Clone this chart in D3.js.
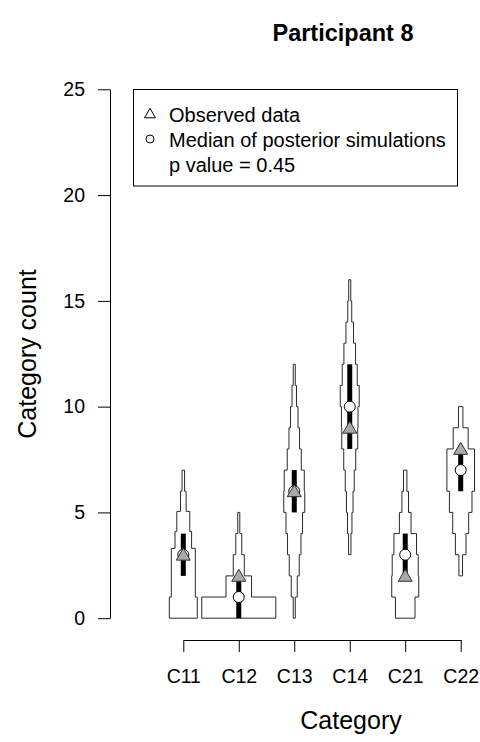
<!DOCTYPE html>
<html>
<head>
<meta charset="utf-8">
<script src="https://cdn.jsdelivr.net/npm/d3@7"></script>
<style>
  html, body { margin: 0; padding: 0; background: #fff; }
  svg { display: block; font-family: "Liberation Sans", Arial, Helvetica, sans-serif; }
</style>
</head>
<body>
<svg id="chart" width="480" height="742"></svg>
<script>
// Categories on the x axis
const categories = ["C11", "C12", "C13", "C14", "C21", "C22"];

// Observed category counts and medians of the posterior simulations
const observed = [3, 2, 6, 9, 2, 8];
const medians  = [3, 1, 6, 10, 3, 7];

// Central interval of the simulated counts (thick black bar)
const intervalLow  = [2, 0, 5, 8, 2, 6];
const intervalHigh = [4, 2, 7, 12, 4, 8];

// Histogram of simulated counts per category: bin edges and proportion per bin
const binEdges = [
  [0, 1, 3.3, 4.1, 5.05, 6, 7],
  [0, 1, 2, 3, 4, 5],
  [0, 1, 2, 3, 4, 5, 6, 7, 8, 9, 10, 11, 12],
  [3, 4, 5, 6, 7, 8, 9, 10, 11, 12, 13, 14, 15, 16],
  [0, 1, 2, 3, 4, 5, 6, 7],
  [2, 3, 4, 5, 6, 7, 8, 9, 10]
];
const binFreq = [
  [0.233, 0.200, 0.138, 0.108, 0.047, 0.021],
  [0.617, 0.213, 0.092, 0.050, 0.017],
  [0.017, 0.050, 0.083, 0.112, 0.138, 0.175, 0.167, 0.117, 0.088, 0.062, 0.037, 0.017],
  [0.020, 0.037, 0.055, 0.075, 0.100, 0.133, 0.138, 0.158, 0.125, 0.097, 0.063, 0.033, 0.017],
  [0.163, 0.225, 0.217, 0.188, 0.097, 0.055, 0.028],
  [0.030, 0.088, 0.133, 0.188, 0.230, 0.230, 0.125, 0.037]
];

// Axis ticks and text
const yTicks = [0, 5, 10, 15, 20, 25];
const titleText = "Participant 8";
const xTitle = "Category";
const yTitle = "Category count";
const legendLabels = ["Observed data", "Median of posterior simulations", "p value = 0.45"];

const svg = d3.select("#chart");

const y = d3.scaleLinear().domain([0, 25]).range([618.2, 89.3]);
const x = d3.scalePoint().domain(categories).range([183.3, 460.7]);
const halfWidth = d3.scaleLinear().domain([0, 1]).range([0, 60]);

// Title
svg.append("text")
  .attr("x", 343).attr("y", 41)
  .attr("text-anchor", "middle")
  .attr("font-weight", "bold")
  .attr("font-size", 23.5)
  .text(titleText);

// Y axis
const yAxis = svg.append("g")
  .attr("transform", "translate(110,0)")
  .call(d3.axisLeft(y).tickValues(yTicks).tickSize(12).tickSizeOuter(0).tickPadding(13));
yAxis.selectAll("text").attr("font-size", 19.5).attr("font-family", null).attr("fill", "#000");
yAxis.selectAll("line, path").attr("stroke", "#000");

// X axis
const xAxis = svg.append("g")
  .attr("transform", "translate(0,640)")
  .call(d3.axisBottom(x).tickSize(12).tickSizeOuter(0).tickPadding(17.5));
xAxis.selectAll("text").attr("font-size", 19.5).attr("font-family", null).attr("fill", "#000");
xAxis.selectAll("line, path").attr("stroke", "#000");

// Axis titles
svg.append("text")
  .attr("x", 351).attr("y", 729)
  .attr("text-anchor", "middle")
  .attr("font-size", 25)
  .text(xTitle);
svg.append("text")
  .attr("transform", "translate(35.5,354) rotate(-90)")
  .attr("text-anchor", "middle")
  .attr("font-size", 25)
  .text(yTitle);

// Step-histogram outlines (mirrored around each category position)
function stepOutline(edges, freq, cx) {
  const right = [], left = [];
  freq.forEach((f, i) => {
    const w = halfWidth(f);
    right.push([cx + w, y(edges[i])], [cx + w, y(edges[i + 1])]);
    left.push([cx - w, y(edges[i])], [cx - w, y(edges[i + 1])]);
  });
  return right.concat(left.reverse());
}

const groups = svg.append("g").selectAll("g")
  .data(categories)
  .join("g");

groups.append("path")
  .attr("d", (c, i) => d3.line()(stepOutline(binEdges[i], binFreq[i], x(c))) + "Z")
  .attr("fill", "#fff")
  .attr("stroke", "#2a2a2a")
  .attr("stroke-width", 1);

groups.append("rect")
  .attr("x", c => x(c) - 2.5)
  .attr("width", 5)
  .attr("y", (c, i) => y(intervalHigh[i]))
  .attr("height", (c, i) => y(intervalLow[i]) - y(intervalHigh[i]))
  .attr("fill", "#000");

groups.append("circle")
  .attr("cx", c => x(c))
  .attr("cy", (c, i) => y(medians[i]))
  .attr("r", 5.5)
  .attr("fill", "#fff")
  .attr("stroke", "#000")
  .attr("stroke-width", 1);

const tri = (cx, cy, w, h) => `M${cx},${cy - h * 0.55}L${cx + w / 2},${cy + h * 0.45}L${cx - w / 2},${cy + h * 0.45}Z`;

groups.append("path")
  .attr("d", (c, i) => tri(x(c), y(observed[i]), 14, 12))
  .attr("fill", "#a9a9a9")
  .attr("stroke", "#333")
  .attr("stroke-width", 1);

// Legend
const legend = svg.append("g");
legend.append("rect")
  .attr("x", 133.5).attr("y", 89.5)
  .attr("width", 324).attr("height", 96.5)
  .attr("fill", "#fff").attr("stroke", "#000");
legend.append("path")
  .attr("d", tri(150, 113.5, 11, 9.5))
  .attr("fill", "none").attr("stroke", "#000");
legend.append("circle")
  .attr("cx", 150).attr("cy", 139).attr("r", 4)
  .attr("fill", "none").attr("stroke", "#000");
legend.selectAll("text.lbl")
  .data(legendLabels)
  .join("text")
  .attr("class", "lbl")
  .attr("x", 169)
  .attr("y", (d, i) => 121.5 + i * 25)
  .attr("font-size", 20)
  .text(d => d);
</script>
</body>
</html>
